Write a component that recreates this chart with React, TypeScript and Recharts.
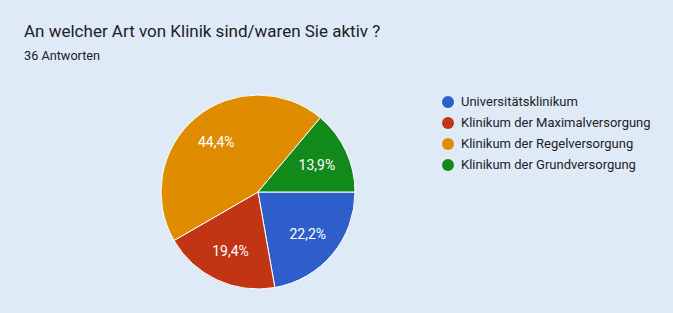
import React from "react";
import { PieChart, Pie, Cell, Legend } from "recharts";

const categories = [
  "Universitätsklinikum",
  "Klinikum der Maximalversorgung",
  "Klinikum der Regelversorgung",
  "Klinikum der Grundversorgung",
];
const counts = [8, 7, 16, 5];
const colors = ["#2d5ec9", "#c13414", "#e08c00", "#118a1b"];

const title = "An welcher Art von Klinik sind/waren Sie aktiv ?";
const subtitle = "36 Antworten";

const total = counts.reduce((a, b) => a + b, 0);
const data = categories.map((name, i) => ({ name, value: counts[i] }));

const RAD = Math.PI / 180;
const renderLabel = (props: any) => {
  const { cx, cy, midAngle, outerRadius, value } = props;
  const r = outerRadius * 0.67;
  const x = cx + r * Math.cos(-midAngle * RAD);
  const y = cy + r * Math.sin(-midAngle * RAD);
  const pct = ((value / total) * 100).toFixed(1).replace(".", ",") + "%";
  return (
    <text
      x={x}
      y={y}
      fill="#ffffff"
      textAnchor="middle"
      dominantBaseline="central"
      fontSize={14}
      fontFamily="Roboto, Arial, sans-serif"
    >
      {pct}
    </text>
  );
};

const LegendContent = () => (
  <div style={{ fontFamily: "Roboto, Arial, sans-serif", fontSize: 13, color: "#222" }}>
    {categories.map((c, i) => (
      <div key={c} style={{ display: "flex", alignItems: "center", height: 21 }}>
        <span
          style={{
            width: 12,
            height: 12,
            borderRadius: "50%",
            background: colors[i],
            display: "inline-block",
            marginRight: 7,
          }}
        />
        <span>{c}</span>
      </div>
    ))}
  </div>
);

export default function App() {
  return (
    <div
      style={{
        position: "fixed",
        left: 0,
        top: 0,
        width: 673,
        height: 313,
        background: "#dfeaf7",
        overflow: "hidden",
      }}
    >
      <div
        style={{
          position: "absolute",
          left: 24,
          top: 21,
          fontFamily: "Roboto, Arial, sans-serif",
          fontSize: 17,
          color: "#202124",
          whiteSpace: "nowrap",
        }}
      >
        {title}
      </div>
      <div
        style={{
          position: "absolute",
          left: 24,
          top: 48,
          fontFamily: "Roboto, Arial, sans-serif",
          fontSize: 12.7,
          color: "#202124",
        }}
      >
        {subtitle}
      </div>
      <PieChart
        width={673}
        height={313}
        margin={{ top: 0, right: 0, bottom: 0, left: 0 }}
        style={{ position: "absolute", left: 0, top: 0 }}
      >
        <Pie
          data={data}
          dataKey="value"
          nameKey="name"
          cx={258}
          cy={192}
          outerRadius={97}
          startAngle={0}
          endAngle={-360}
          stroke="#ffffff"
          strokeWidth={1}
          label={renderLabel}
          labelLine={false}
          isAnimationActive={false}
        >
          {data.map((d, i) => (
            <Cell key={d.name} fill={colors[i]} />
          ))}
        </Pie>
        <Legend
          content={<LegendContent />}
          wrapperStyle={{ position: "absolute", left: 442, top: 91, width: 230 }}
        />
      </PieChart>
    </div>
  );
}
